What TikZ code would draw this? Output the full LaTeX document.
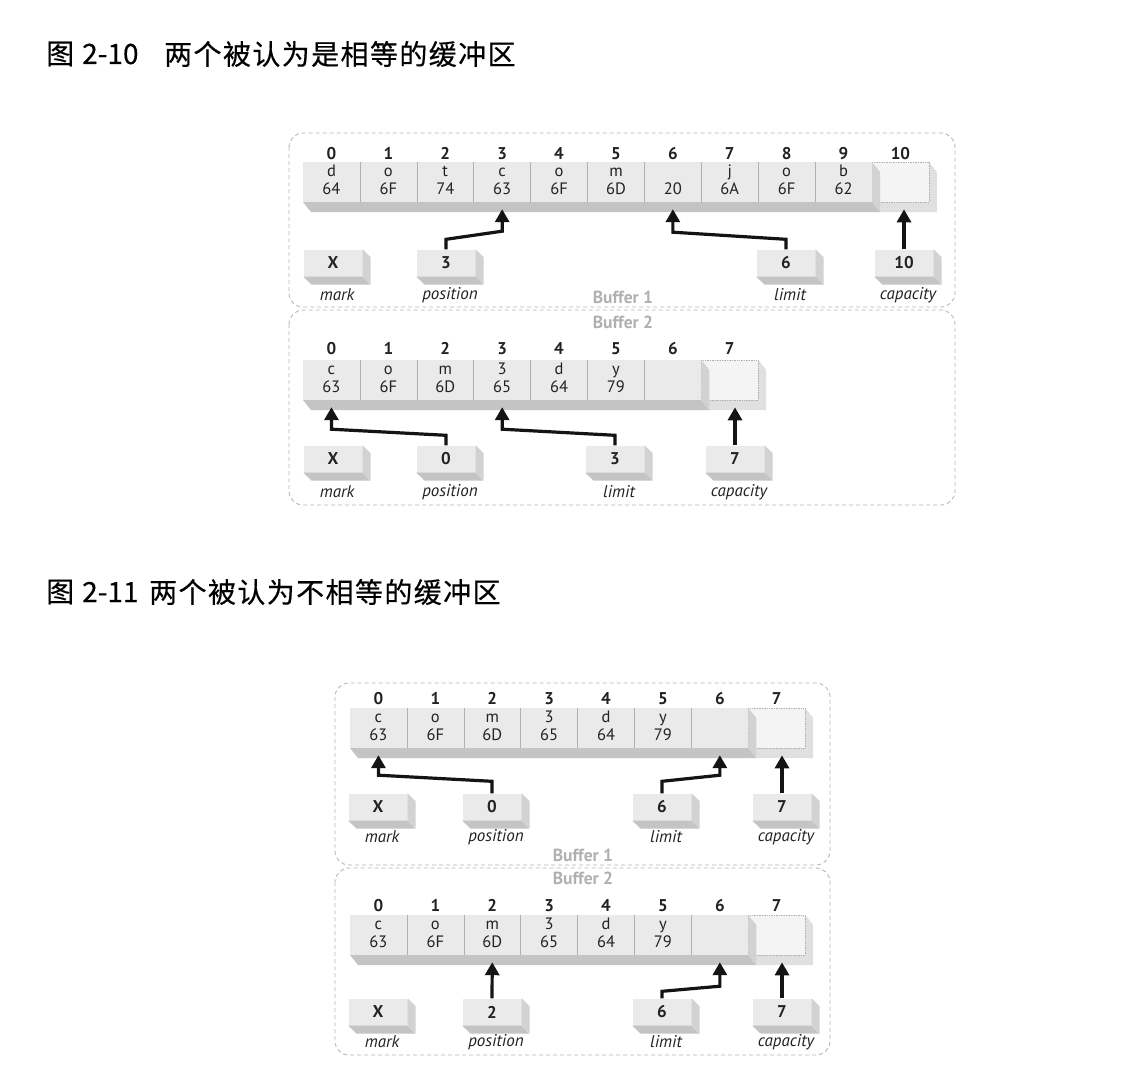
\documentclass[tikz,border=0pt]{standalone}
\usepackage{fontspec}
\setmainfont{PT Sans}
\newfontfamily\cjk[FakeBold=0.4]{Noto Sans CJK SC}
\newfontfamily\cjkls[LetterSpace=5,FakeBold=0.4]{Noto Sans CJK SC}
\usetikzlibrary{arrows.meta,calc}

\definecolor{facec}{HTML}{EAEAEA}
\definecolor{botc}{HTML}{C4C4C4}
\definecolor{sidec}{HTML}{D2D2D2}
\definecolor{capface}{HTML}{F4F4F4}
\definecolor{capbotc}{HTML}{E0E0E0}
\definecolor{framec}{HTML}{B8B8B8}
\definecolor{buflabc}{HTML}{B0B0B0}
\definecolor{divc}{HTML}{B0B0B0}
\definecolor{txtc}{HTML}{222222}

\tikzset{
  cell/.style={rectangle, fill=facec, minimum width=56.9pt, minimum height=40pt, inner sep=0pt, align=center, font=\fontsize{16.5}{16.5}\selectfont, text=txtc},
  capcell/.style={rectangle, fill=capface, draw=divc, densely dotted, line width=0.7pt, minimum width=56.9pt, minimum height=40pt, inner sep=0pt},
  idx/.style={font=\fontsize{17}{18}\selectfont\bfseries, text=txtc, inner sep=0pt, anchor=base},
  pbox/.style={rectangle, fill=facec, minimum width=59pt, minimum height=27pt, inner sep=0pt, font=\fontsize{17}{18}\selectfont\bfseries, text=txtc},
  plabel/.style={font=\fontsize{17}{18}\selectfont\itshape, text=txtc, inner sep=0pt},
  buflab/.style={font=\fontsize{17.5}{19}\selectfont\bfseries, text=buflabc, inner sep=0pt},
  frame/.style={draw=framec, line width=0.9pt, dash pattern=on 4pt off 3pt, rounded corners=14pt},
  ptr/.style={draw=black!92, line width=3.2pt, line join=miter, -{Triangle[width=14pt,length=13pt]}},
  div/.style={draw=divc, line width=0.6pt},
  ttl/.style={anchor=west, inner sep=0pt, text=black},
}

% #1 prefix, #2 x0, #3 top, #4 n, #5 list, #6 index y
\newcommand\bufrow[6]{%
  \pgfmathsetmacro\rx{#2+56.9*#4}%
  \pgfmathsetmacro\rbot{#3+40}%
  \fill[capbotc] ({\rx+56.9},#3) -- ({\rx+56.9+8},{#3+10}) -- ({\rx+56.9+8},{\rbot+10}) -- ({\rx+8},{\rbot+10}) -- (\rx,\rbot) -- ({\rx+56.9},\rbot) -- cycle;
  \node[capcell] (#1-c#4) at ({\rx+28.45},{#3+20}) {};
  \fill[botc] (#2,\rbot) -- (\rx,\rbot) -- ({\rx+8},{\rbot+10}) -- ({#2+8},{\rbot+10}) -- cycle;
  \fill[sidec] (\rx,#3) -- ({\rx+8},{#3+10}) -- ({\rx+8},{\rbot+10}) -- (\rx,\rbot) -- cycle;
  \foreach \c/\h [count=\i from 0] in {#5} {%
    \node[cell] (#1-c\i) at ({#2+56.9*(\i+0.5)},{#3+20}) {\strut\c\\\strut\h};
  }%
  \pgfmathtruncatemacro\nm{#4-1}%
  \foreach \i in {1,...,\nm} {\draw[div] ({#2+56.9*\i},#3) -- ({#2+56.9*\i},\rbot);}%
  \foreach \i in {0,...,#4} {\node[idx] (#1-i\i) at ({#2+56.9*(\i+0.5)},{#6+6}) {\i};}%
}

% #1 name, #2 x, #3 y, #4 text, #5 label, #6 label y
\newcommand\ptrbox[6]{%
  \node[pbox] (#1) at (#2,#3) {#4};
  \fill[sidec] (#1.north east) -- ++(8,8) -- ++(0,27) -- (#1.south east) -- cycle;
  \fill[botc] (#1.south west) -- (#1.south east) -- ++(8,8) -- ++(-59,0) -- cycle;
  \node[plabel] (#1-l) at ({#2+4},#6) {#5};
}

\begin{document}
\begin{tikzpicture}[x=1pt,y=-1pt]
\fill[white] (0,0) rectangle (1140,1090);
\useasboundingbox (0,0) rectangle (1140,1090);

% ---------- Titles ----------
\node[ttl, font=\cjk\fontsize{28}{32}\selectfont] (t1a) at (46,54) {图};
\node[ttl, font=\cjk\fontsize{28}{32}\selectfont] (t1b) at (82,54) {2-10};
\node[ttl, font=\cjkls\fontsize{28}{32}\selectfont] (t1c) at (164,54) {两个被认为是相等的缓冲区};

\node[ttl, font=\cjk\fontsize{28}{32}\selectfont] (t2a) at (46,592) {图};
\node[ttl, font=\cjk\fontsize{28}{32}\selectfont] (t2b) at (82,592) {2-11};
\node[ttl, font=\cjkls\fontsize{28}{32}\selectfont] (t2c) at (149,592) {两个被认为不相等的缓冲区};

% ---------- Figure 2-10 ----------
\draw[frame] (289,133) rectangle (955,307);
\draw[frame] (289,310) rectangle (955,505);
\node[buflab] (f1a-name) at (623,297) {Buffer 1};
\node[buflab] (f1b-name) at (623,322) {Buffer 2};

\bufrow{f1a}{303}{162}{10}{d/64,o/6F,t/74,c/63,o/6F,m/6D,~/20,j/6A,o/6F,b/62}{153}
\ptrbox{f1a-mark}{333}{263}{X}{mark}{295}
\ptrbox{f1a-pos}{446}{263}{3}{position}{295}
\ptrbox{f1a-lim}{786}{263}{6}{limit}{295}
\ptrbox{f1a-cap}{904}{263}{10}{capacity}{295}
\draw[ptr] (f1a-pos.north) -- ++(0,-10) -- ($(f1a-c3.south)+(0,29)$) -- ([yshift=-7pt]f1a-c3.south);
\draw[ptr] (f1a-lim.north) -- ++(0,-10) -- ($(f1a-c6.south)+(0,30)$) -- ([yshift=-7pt]f1a-c6.south);
\draw[ptr] (f1a-cap.north) -- ($(f1a-cap.north |- f1a-c10.south)+(0,7)$);

\bufrow{f1b}{303}{360}{7}{c/63,o/6F,m/6D,3/65,d/64,y/79,~/~}{348}
\ptrbox{f1b-mark}{333}{459}{X}{mark}{492}
\ptrbox{f1b-pos}{446}{459}{0}{position}{492}
\ptrbox{f1b-lim}{615}{459}{3}{limit}{492}
\ptrbox{f1b-cap}{735}{459}{7}{capacity}{492}
\draw[ptr] (f1b-pos.north) -- ++(0,-10) -- ($(f1b-c0.south)+(0,29)$) -- ([yshift=-7pt]f1b-c0.south);
\draw[ptr] (f1b-lim.north) -- ++(0,-10) -- ($(f1b-c3.south)+(0,29)$) -- ([yshift=-7pt]f1b-c3.south);
\draw[ptr] (f1b-cap.north) -- ($(f1b-cap.north |- f1b-c7.south)+(0,7)$);

% ---------- Figure 2-11 ----------
\draw[frame] (335,683) rectangle (830,865);
\draw[frame] (335,868) rectangle (830,1055);
\node[buflab] (f2a-name) at (583,855) {Buffer 1};
\node[buflab] (f2b-name) at (583,878) {Buffer 2};

\bufrow{f2a}{350}{708}{7}{c/63,o/6F,m/6D,3/65,d/64,y/79,~/~}{698}
\ptrbox{f2a-mark}{378}{807}{X}{mark}{837}
\ptrbox{f2a-pos}{492}{807}{0}{position}{837}
\ptrbox{f2a-lim}{662}{807}{6}{limit}{837}
\ptrbox{f2a-cap}{782}{807}{7}{capacity}{837}
\draw[ptr] (f2a-pos.north) -- ++(0,-12) -- ($(f2a-c0.south)+(0,27)$) -- ([yshift=-7pt]f2a-c0.south);
\draw[ptr] (f2a-lim.north) -- ++(0,-12) -- ($(f2a-c6.south)+(0,27)$) -- ([yshift=-7pt]f2a-c6.south);
\draw[ptr] (f2a-cap.north) -- ($(f2a-cap.north |- f2a-c7.south)+(0,7)$);

\bufrow{f2b}{350}{915}{7}{c/63,o/6F,m/6D,3/65,d/64,y/79,~/~}{905}
\ptrbox{f2b-mark}{378}{1012}{X}{mark}{1042}
\ptrbox{f2b-pos}{492}{1012}{2}{position}{1042}
\ptrbox{f2b-lim}{662}{1012}{6}{limit}{1042}
\ptrbox{f2b-cap}{782}{1012}{7}{capacity}{1042}
\draw[ptr] (f2b-pos.north) -- ([yshift=-7pt]f2b-c2.south);
\draw[ptr] (f2b-lim.north) -- ++(0,-7) -- ($(f2b-c6.south)+(0,31)$) -- ([yshift=-7pt]f2b-c6.south);
\draw[ptr] (f2b-cap.north) -- ($(f2b-cap.north |- f2b-c7.south)+(0,7)$);
\end{tikzpicture}
\end{document}
